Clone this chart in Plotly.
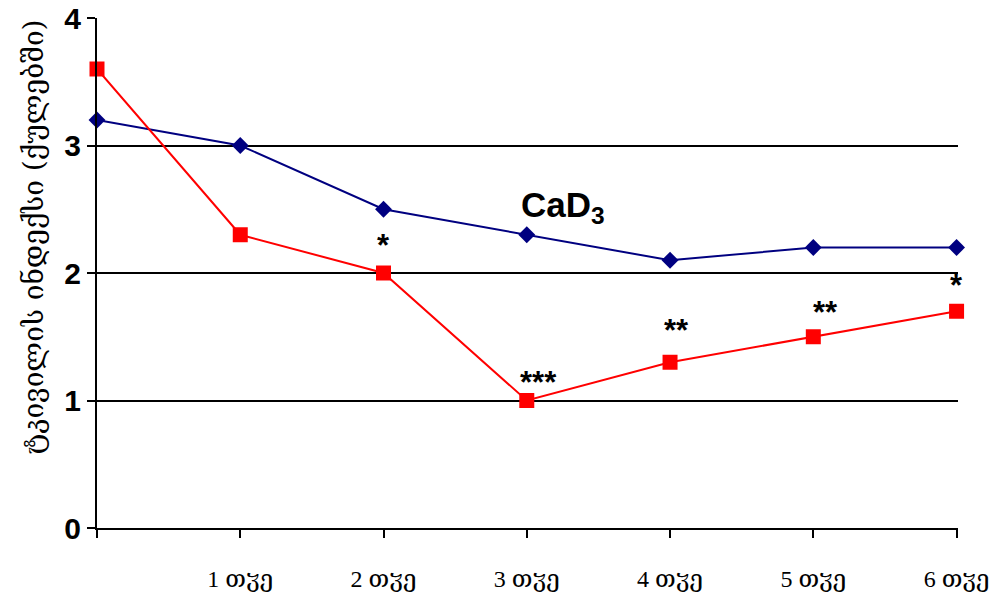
import plotly.graph_objects as go

x_vals = [0, 1, 2, 3, 4, 5, 6]
tick_text = ["", "1 თჳე", "2 თჳე", "3 თჳე", "4 თჳე", "5 თჳე", "6 თჳე"]
cad3 = [3.2, 3.0, 2.5, 2.3, 2.1, 2.2, 2.2]
other = [3.6, 2.3, 2.0, 1.0, 1.3, 1.5, 1.7]
sig_x = [2, 3, 4, 5, 6]
sig_text = ["*", "***", "**", "**", "*"]

# label placement offsets (pixels) for the significance marks
sig_dy = [28, 18, 32, 24, 26]
sig_dx = [0, 12, 6, 12, 0]

fig = go.Figure()
fig.add_trace(go.Scatter(x=x_vals, y=cad3, mode="lines+markers",
                         line=dict(color="#000080", width=2),
                         marker=dict(symbol="diamond", size=13, color="#000080"),
                         cliponaxis=False, showlegend=False))
fig.add_trace(go.Scatter(x=x_vals, y=other, mode="lines+markers",
                         line=dict(color="#ff0000", width=2),
                         marker=dict(symbol="square", size=15, color="#ff0000"),
                         cliponaxis=False, showlegend=False))

for xs, t, dy, dx in zip(sig_x, sig_text, sig_dy, sig_dx):
    yv = other[x_vals.index(xs)]
    fig.add_annotation(x=xs, y=yv, text="<b>" + t + "</b>", showarrow=False,
                       yshift=dy, xshift=dx,
                       font=dict(family="Liberation Sans", size=31, color="black"),
                       xanchor="center", yanchor="middle")

fig.add_annotation(x=3.25, y=2.52, text="<b>CaD<sub>3</sub></b>", showarrow=False,
                   font=dict(family="Liberation Sans", size=35, color="black"))

fig.add_annotation(xref="paper", yref="paper", x=0, y=0.57, xshift=-82,
                   text="ტკივილის ინდექსი (ქულებში)", textangle=-90, showarrow=False,
                   font=dict(family="DejaVu Serif, DejaVu Sans", size=28, color="black"))

fig.update_layout(
    width=1000, height=597,
    margin=dict(l=97, r=42, t=18, b=69, autoexpand=False),
    plot_bgcolor="white", paper_bgcolor="white",
    xaxis=dict(range=[0, 6.01], tickvals=x_vals, ticktext=tick_text, automargin=False,
               showgrid=False, zeroline=False, showline=True, linecolor="black", linewidth=2,
               ticks="outside", ticklen=8, tickwidth=2, tickcolor="black",
               ticklabelstandoff=20,
               tickfont=dict(family="Liberation Serif, DejaVu Serif", size=24, color="black")),
    yaxis=dict(range=[0, 4], tickvals=[0, 1, 2, 3, 4], showgrid=True, gridcolor="black", gridwidth=2,
               zeroline=False, showline=True, linecolor="black", linewidth=2, automargin=False,
               ticks="outside", ticklen=8, tickwidth=2, tickcolor="black",
               tickfont=dict(family="Liberation Sans", size=30, color="black", weight="bold")),
)

fig.write_html("out.html", config={"displayModeBar": False},
               post_script="document.body.style.margin='0';document.body.style.overflow='hidden';")
